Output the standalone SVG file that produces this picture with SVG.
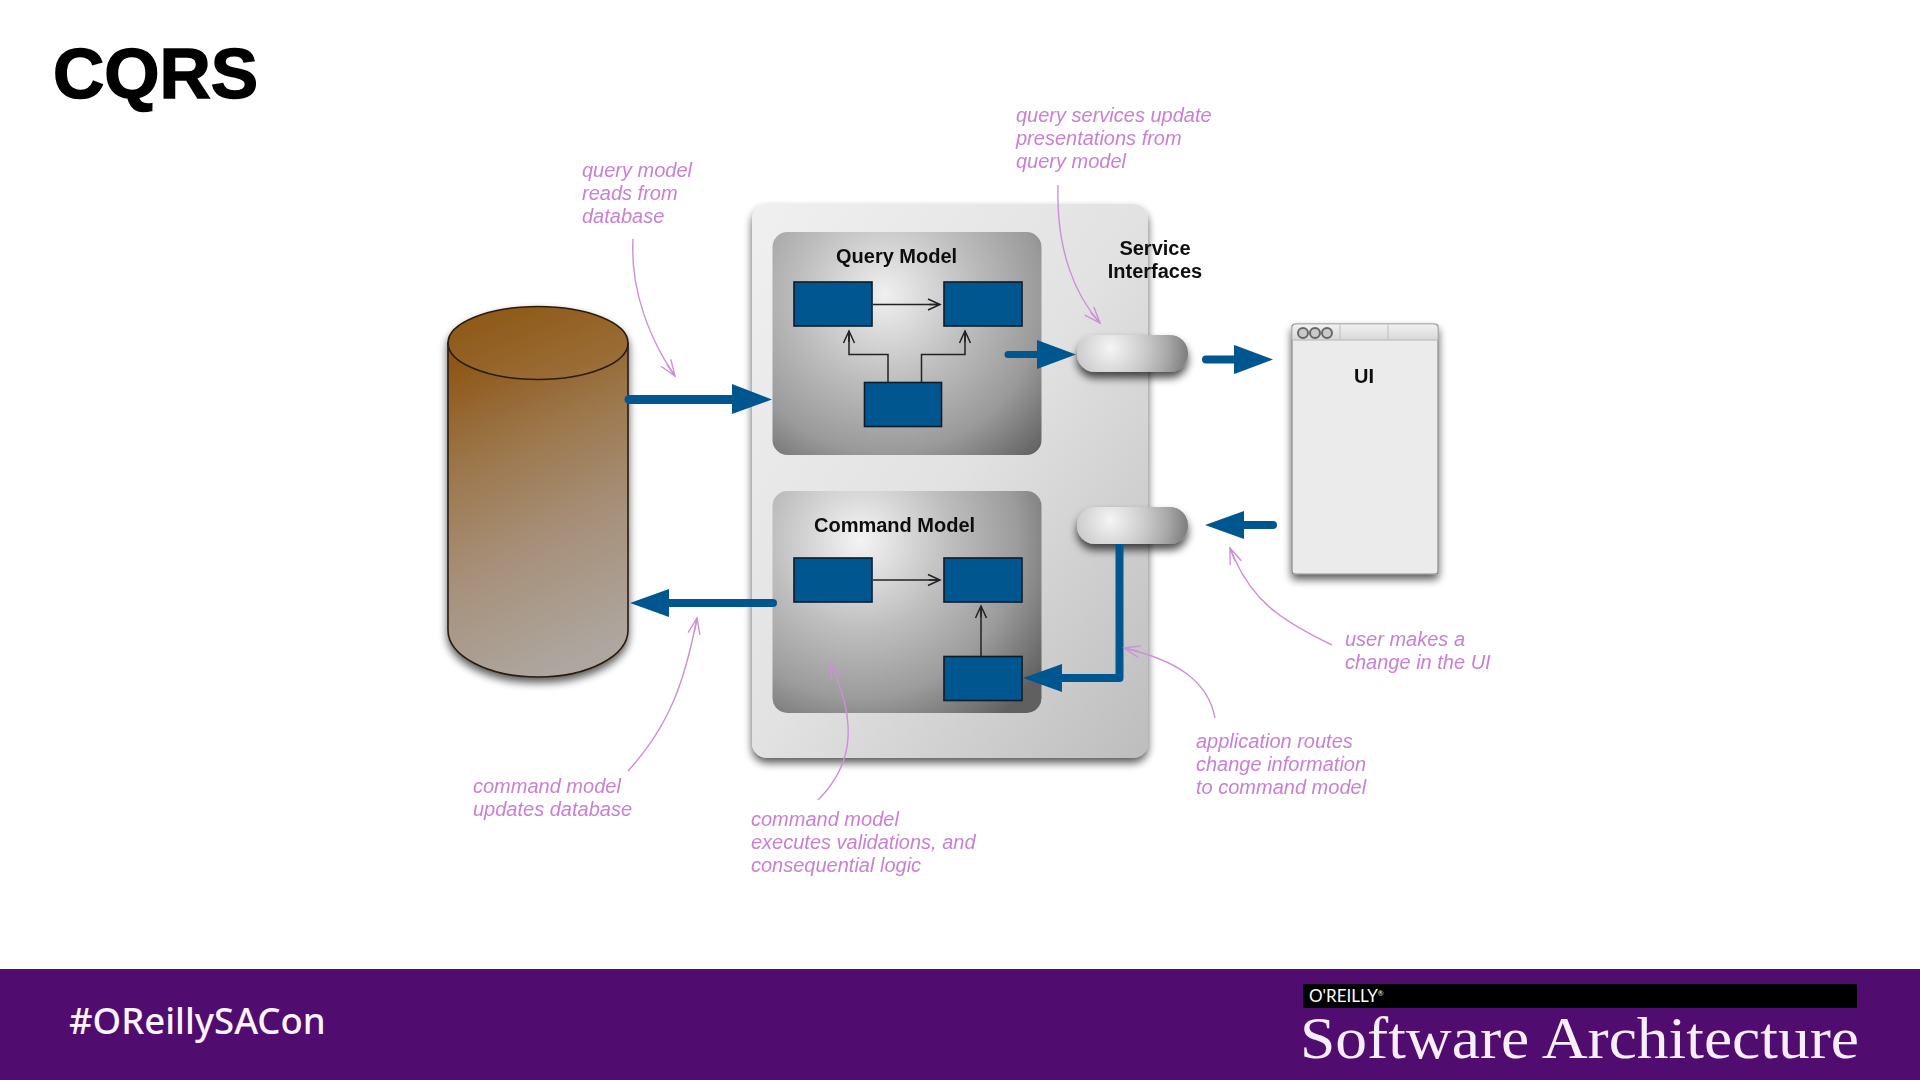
<svg xmlns="http://www.w3.org/2000/svg" width="1920" height="1080" viewBox="0 0 1920 1080">
<style>
.box{fill:#06568f;stroke:#0a1a2a;stroke-width:1.6}
.lbl{font-family:"Liberation Sans",Arial,sans-serif;font-weight:700;font-size:20px;fill:#111}
.note{font-family:"Liberation Sans",Arial,sans-serif;font-style:italic;font-size:20px;fill:#c980d2}
.thin{fill:none;stroke:#222;stroke-width:1.5;marker-end:url(#open)}
.pink{fill:none;stroke:#cd8fd8;stroke-width:1.4;marker-end:url(#openp)}
.fat{fill:none;stroke:#06568f;stroke-linecap:round;stroke-linejoin:round}
.head{fill:#06568f}
</style>
<defs>
<marker id="open" markerUnits="userSpaceOnUse" markerWidth="16" markerHeight="16" refX="13" refY="7" orient="auto"><path d="M1 1.5L13 7L1 12.5M2 7H13" fill="none" stroke="#222" stroke-width="1.5"/></marker>
<marker id="openp" markerUnits="userSpaceOnUse" markerWidth="20" markerHeight="18" refX="17" refY="8" orient="auto"><path d="M1 2L17 8L1 14M3 8H17" fill="none" stroke="#cd8fd8" stroke-width="1.4"/></marker>
<linearGradient id="cyl" x1="0.3" y1="0" x2="0.55" y2="1"><stop offset="0" stop-color="#8e5717"/><stop offset=".3" stop-color="#9c774b"/><stop offset=".6" stop-color="#a68f78"/><stop offset="1" stop-color="#aea7a0"/></linearGradient>
<linearGradient id="cyltop" x1="0" y1="0" x2="1" y2="1"><stop offset="0" stop-color="#8c5512"/><stop offset="1" stop-color="#9e733f"/></linearGradient>
<linearGradient id="panel" x1="0" y1="0" x2="1" y2="1"><stop offset="0" stop-color="#f0f0f0"/><stop offset=".5" stop-color="#e2e2e2"/><stop offset="1" stop-color="#bdbdbd"/></linearGradient>
<radialGradient id="qm" gradientUnits="userSpaceOnUse" cx="885" cy="295" r="225"><stop offset="0" stop-color="#f0f0f0"/><stop offset=".4" stop-color="#bcbcbc"/><stop offset=".7" stop-color="#9a9a9a"/><stop offset="1" stop-color="#5c5c5c"/></radialGradient>
<radialGradient id="cm" gradientUnits="userSpaceOnUse" cx="860" cy="540" r="225"><stop offset="0" stop-color="#f4f4f4"/><stop offset=".4" stop-color="#bebebe"/><stop offset=".7" stop-color="#9c9c9c"/><stop offset="1" stop-color="#606060"/></radialGradient>
<radialGradient id="pill" cx=".3" cy=".35" r=".8" gradientTransform="translate(.3 .35) scale(1 3) translate(-.3 -.35)"><stop offset="0" stop-color="#f5f5f5"/><stop offset=".4" stop-color="#cacaca"/><stop offset=".65" stop-color="#a8a8a8"/><stop offset="1" stop-color="#666"/></radialGradient>
<linearGradient id="tb" x1="0" y1="0" x2="0" y2="1"><stop offset="0" stop-color="#f2f2f2"/><stop offset="1" stop-color="#d8d8d8"/></linearGradient>
<filter id="sh" x="-20%" y="-20%" width="140%" height="140%"><feGaussianBlur in="SourceAlpha" stdDeviation="4"/><feOffset dy="5"/><feComponentTransfer><feFuncA type="linear" slope=".65"/></feComponentTransfer><feMerge><feMergeNode/><feMergeNode in="SourceGraphic"/></feMerge></filter>
<filter id="shp" x="-20%" y="-30%" width="140%" height="180%"><feGaussianBlur in="SourceAlpha" stdDeviation="4"/><feOffset dy="6"/><feComponentTransfer><feFuncA type="linear" slope=".7"/></feComponentTransfer><feMerge><feMergeNode/><feMergeNode in="SourceGraphic"/></feMerge></filter>
<filter id="soft" x="0" y="0" width="1920" height="1080" filterUnits="userSpaceOnUse"><feGaussianBlur stdDeviation=".6"/></filter>
</defs>
<rect width="1920" height="1080" fill="#fff"/>
<g id="title"><text x="53" y="98" font-family="'Liberation Sans',Arial,sans-serif" font-weight="700" font-size="71" fill="#000" stroke="#000" stroke-width="1.5">CQRS</text></g>
<g id="diagram" filter="url(#soft)">
<g id="database" filter="url(#sh)">
<path d="M448 343V630C448 656 488 677 538 677S628 656 628 630V343Z" fill="url(#cyl)" stroke="#2a1c10" stroke-width="1.6"/>
<ellipse cx="538" cy="343" rx="90" ry="36.500" fill="url(#cyltop)" stroke="#2a1c10" stroke-width="1.6"/>
</g>
<g id="panel-group"><rect x="752" y="204" width="396" height="554" rx="15" fill="url(#panel)" filter="url(#sh)"/></g>
<g id="query-model">
<rect x="772.500" y="232" width="269" height="223" rx="15" fill="url(#qm)"/>
<text class="lbl" x="836" y="263">Query Model</text>
<rect class="box" x="794" y="282" width="78" height="44"/>
<rect class="box" x="944" y="282" width="78" height="44"/>
<rect class="box" x="864.500" y="382.500" width="77" height="44"/>
</g>
<g id="command-model">
<rect x="772.500" y="491" width="269" height="222" rx="15" fill="url(#cm)"/>
<text class="lbl" x="814" y="532">Command Model</text>
<rect class="box" x="794" y="558" width="78" height="44"/>
<rect class="box" x="944" y="558" width="78" height="44"/>
<rect class="box" x="944" y="656.500" width="78" height="44"/>
</g>
<g id="service-interfaces">
<rect x="1077" y="335" width="111" height="37" rx="18" fill="url(#pill)" filter="url(#shp)"/>
<rect x="1077" y="507" width="111" height="37" rx="18" fill="url(#pill)" filter="url(#shp)"/>
<text class="lbl" x="1155" y="255" text-anchor="middle">Service</text>
<text class="lbl" x="1155" y="278" text-anchor="middle">Interfaces</text>
</g>
<g id="ui">
<rect x="1292" y="324" width="146" height="250" rx="3" fill="#ebebeb" stroke="#8a8a8a" stroke-width="1.2" filter="url(#sh)"/>
<path d="M1292 340V329Q1292 324 1297 324H1433Q1438 324 1438 329V340Z" fill="url(#tb)" stroke="#b5b5b5"/>
<path d="M1340 325V340M1388 325V340" stroke="#bdbdbd" fill="none"/>
<g fill="#c9c9c9" stroke="#666" stroke-width="2"><circle cx="1303" cy="333" r="5"/><circle cx="1315" cy="333" r="5"/><circle cx="1327" cy="333" r="5"/></g>
<text class="lbl" x="1364" y="383" text-anchor="middle">UI</text>
</g>
<g id="connectors">
<path class="fat" stroke-width="9" d="M629 399.500H735"/><path class="head" d="M732 384L772 399.500L732 414Z"/>
<path class="fat" stroke-width="8" d="M773 603H665"/><path class="head" d="M669 589L630 603L669 617Z"/>
<path class="fat" stroke-width="7" d="M1008 354.500H1040"/><path class="head" d="M1037 340L1076 354.500L1037 369Z"/>
<path class="fat" stroke-width="8" d="M1206 359.500H1238"/><path class="head" d="M1234 345L1273 359.500L1234 374Z"/>
<path class="fat" stroke-width="8" d="M1273 525H1240"/><path class="head" d="M1244 511L1205 525L1244 539Z"/>
<path class="fat" style="stroke-linecap:butt" stroke-width="8" d="M1119.500 544V678H1058"/><path class="head" d="M1062 664L1023 678L1062 692Z"/>
<path class="thin" d="M873 304.500H940"/>
<path class="thin" d="M888 382V354.500H849V331"/>
<path class="thin" d="M921.500 382V354.500H965V331"/>
<path class="thin" d="M873 580H940"/>
<path class="thin" d="M981 656V606"/>
<path class="pink" d="M633 239C630 290 650 340 675 376"/>
<path class="pink" d="M1058 185C1056 250 1075 295 1100 323"/>
<path class="pink" d="M1332 645C1280 620 1250 600 1230 548"/>
<path class="pink" d="M1215 718C1208 680 1175 660 1124 648"/>
<path class="pink" d="M818 800C848 770 862 730 830 663"/>
<path class="pink" d="M628 771C670 725 685 680 697 618"/>
</g>
<g id="notes">
<text class="note" x="1016" y="122">query services update</text>
<text class="note" x="1016" y="145">presentations from</text>
<text class="note" x="1016" y="168">query model</text>
<text class="note" x="582" y="177">query model</text>
<text class="note" x="582" y="200">reads from</text>
<text class="note" x="582" y="223">database</text>
<text class="note" x="1345" y="646">user makes a</text>
<text class="note" x="1345" y="669">change in the UI</text>
<text class="note" x="1196" y="747.500">application routes</text>
<text class="note" x="1196" y="770.500">change information</text>
<text class="note" x="1196" y="793.500">to command model</text>
<text class="note" x="751" y="826">command model</text>
<text class="note" x="751" y="849">executes validations, and</text>
<text class="note" x="751" y="872">consequential logic</text>
<text class="note" x="473" y="793">command model</text>
<text class="note" x="473" y="816">updates database</text>
</g>
</g>
<g id="footer">
<rect y="969" width="1920" height="111" fill="#500c6f"/>
<text x="69" y="1034" font-family="'Noto Sans',sans-serif" font-weight="500" font-size="36.500" fill="#fdf4ff">#OReillySACon</text>
<rect x="1303" y="984" width="554" height="24" fill="#000"/>
<text x="1309" y="1002" font-family="Lato,'Liberation Sans',sans-serif" font-size="17" fill="#fff">O'REILLY<tspan font-size="7" dy="-6">®</tspan></text>
<text x="1300" y="1058" font-family="'Liberation Serif',serif" font-size="60" fill="#f6eefa" textLength="559" lengthAdjust="spacingAndGlyphs">Software Architecture</text>
</g>
</svg>
